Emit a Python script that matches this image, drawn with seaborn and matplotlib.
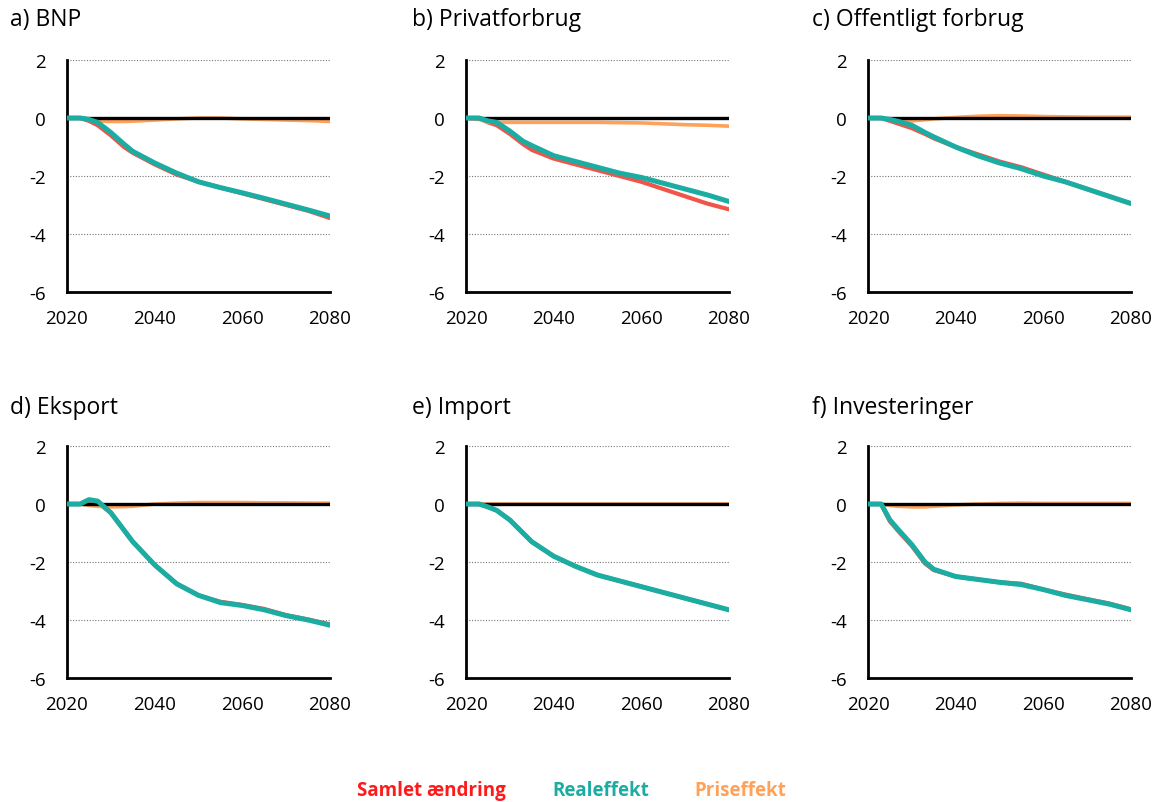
import numpy as np
import pandas as pd
import matplotlib
matplotlib.use("Agg")
import matplotlib.pyplot as plt
import seaborn as sns

sns.set_style("white")
plt.rcParams['font.family'] = ['Open Sans', 'DejaVu Sans']

# data (procentvis afvigelse)
years = [2020, 2023, 2025, 2027, 2030, 2033, 2035, 2040, 2045, 2050, 2055, 2060, 2065, 2070, 2075, 2080]

titles = ["a) BNP", "b) Privatforbrug", "c) Offentligt forbrug",
          "d) Eksport", "e) Import", "f) Investeringer"]

samlet = [
    [0, 0, -0.1, -0.25, -0.6, -1.0, -1.2, -1.6, -1.95, -2.2, -2.4, -2.6, -2.8, -3.0, -3.2, -3.45],
    [0, 0, -0.15, -0.25, -0.55, -0.9, -1.1, -1.4, -1.6, -1.8, -2.0, -2.2, -2.45, -2.7, -2.95, -3.15],
    [0, 0, -0.1, -0.2, -0.35, -0.55, -0.7, -1.0, -1.25, -1.5, -1.7, -1.95, -2.2, -2.45, -2.7, -2.95],
    [0, 0, 0.05, 0.05, -0.3, -0.9, -1.3, -2.1, -2.75, -3.15, -3.37, -3.48, -3.62, -3.83, -3.98, -4.15],
    [0, 0, -0.1, -0.22, -0.55, -1.0, -1.3, -1.8, -2.15, -2.45, -2.65, -2.85, -3.05, -3.25, -3.45, -3.65],
    [0, 0, -0.6, -0.95, -1.45, -2.05, -2.28, -2.5, -2.6, -2.7, -2.75, -2.95, -3.12, -3.28, -3.43, -3.63],
]
real = [
    [0, 0, -0.05, -0.15, -0.5, -0.9, -1.15, -1.55, -1.9, -2.2, -2.4, -2.58, -2.77, -2.97, -3.17, -3.38],
    [0, 0, -0.1, -0.15, -0.45, -0.8, -0.95, -1.3, -1.5, -1.7, -1.9, -2.05, -2.25, -2.45, -2.65, -2.88],
    [0, 0, -0.05, -0.12, -0.25, -0.5, -0.65, -1.0, -1.3, -1.55, -1.75, -2.0, -2.2, -2.45, -2.7, -2.95],
    [0, 0, 0.15, 0.1, -0.3, -0.9, -1.3, -2.1, -2.75, -3.15, -3.4, -3.5, -3.65, -3.85, -4.0, -4.18],
    [0, 0, -0.1, -0.22, -0.55, -1.0, -1.3, -1.8, -2.15, -2.45, -2.65, -2.85, -3.05, -3.25, -3.45, -3.65],
    [0, 0, -0.55, -0.9, -1.4, -2.0, -2.25, -2.5, -2.6, -2.7, -2.78, -2.95, -3.15, -3.3, -3.45, -3.65],
]
pris = [
    [0, 0, -0.05, -0.1, -0.12, -0.12, -0.11, -0.07, -0.03, 0, 0, -0.03, -0.05, -0.07, -0.09, -0.12],
    [0, -0.05, -0.15, -0.15, -0.15, -0.15, -0.15, -0.15, -0.15, -0.15, -0.16, -0.17, -0.2, -0.23, -0.25, -0.28],
    [0, 0, -0.05, -0.08, -0.1, -0.06, -0.03, 0.02, 0.06, 0.08, 0.07, 0.05, 0.04, 0.03, 0.03, 0.03],
    [0, 0, -0.05, -0.08, -0.1, -0.09, -0.08, 0, 0.03, 0.05, 0.05, 0.05, 0.04, 0.04, 0.03, 0.03],
    [0, 0, 0, 0, 0, 0, 0, 0, 0, 0, 0, 0, 0, 0, 0, 0],
    [0, 0, -0.05, -0.08, -0.1, -0.1, -0.08, -0.03, 0, 0.02, 0.03, 0.02, 0.02, 0.02, 0.02, 0.02],
]

serier = ["Samlet ændring", "Realeffekt", "Priseffekt"]
farver = {"Samlet ændring": "#F0554B", "Realeffekt": "#1BADA2", "Priseffekt": "#FFA158"}
bredder = {"Samlet ændring": 3.0, "Realeffekt": 3.6, "Priseffekt": 2.6}
legend_farver = ["#FF1A1A", "#1BADA2", "#FFA158"]

W, H = 1164, 803
fig = plt.figure(figsize=(W / 100, H / 100), dpi=100)

# panel placering i pixels (venstre, top for y=2, bund for y=-6)
lefts = [67, 466, 868]
tops = [61, 447]
pw, ph = 263, 232

for i in range(6):
    r, c = divmod(i, 3)
    ax = fig.add_axes([lefts[c] / W, (H - tops[r] - ph) / H, pw / W, ph / H])

    df = pd.DataFrame({
        "år": years * 3,
        "værdi": samlet[i] + real[i] + pris[i],
        "serie": [serier[0]] * len(years) + [serier[1]] * len(years) + [serier[2]] * len(years),
    })
    for s in ["Samlet ændring", "Priseffekt", "Realeffekt"]:
        sns.lineplot(data=df[df["serie"] == s], x="år", y="værdi", color=farver[s],
                     lw=bredder[s], ax=ax, legend=False, zorder=3 if s == "Realeffekt" else 2)
    ax.axhline(0, color="black", lw=2.4, zorder=2.5)

    ax.set_xlim(2020, 2080)
    ax.set_ylim(-6, 2)
    ax.set_xticks([2020, 2030, 2040, 2050, 2060, 2070, 2080])
    ax.set_xticklabels(["2020", "", "2040", "", "2060", "", "2080"])
    ax.set_yticks([2, 0, -2, -4, -6])
    ax.set_yticklabels(["2", "0", "-2", "-4", "-6"])
    ax.set_xlabel("")
    ax.set_ylabel("")
    ax.grid(axis="y", color="#777777", linestyle=(0, (1, 1.5)), lw=0.8)
    ax.grid(axis="x", visible=False)
    for side in ["top", "right"]:
        ax.spines[side].set_visible(False)
    for side in ["left", "bottom"]:
        ax.spines[side].set_color("black")
        ax.spines[side].set_linewidth(2)
    ax.tick_params(axis="both", direction="out", length=8, width=2, color="black",
                   labelsize=13.5, labelcolor="black")
    ax.tick_params(axis="x", pad=4)
    ax.tick_params(axis="y", pad=8, length=7)

    fig.text([10, 412, 812][c] / W, 1 - [20, 408][r] / H, titles[i],
             fontsize=16.5, va="center", ha="left", color="black")

# forklaring
for x, txt, col in zip([431, 601, 740], serier, legend_farver):
    fig.text(x / W, 1 - 791 / H, txt, color=col, fontsize=13.5, fontweight="bold",
             ha="center", va="center")

fig.savefig("out.png", dpi=100)
